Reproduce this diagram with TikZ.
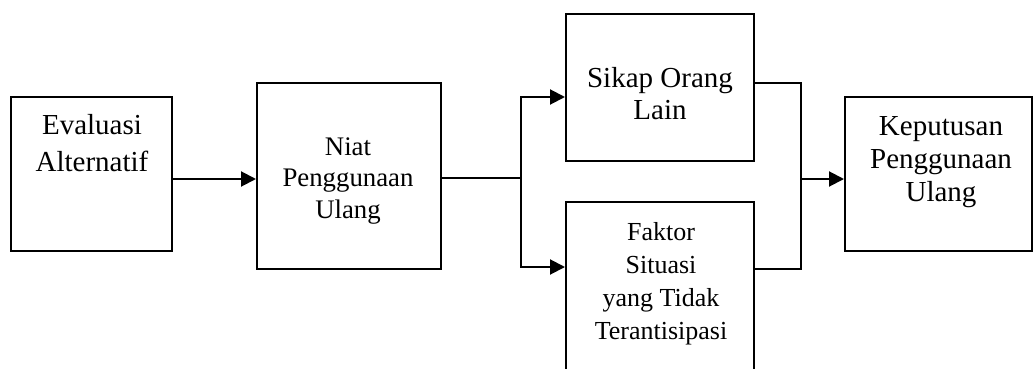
\documentclass[tikz,border=0pt]{standalone}
\usepackage{fontspec}
\setmainfont{Liberation Serif}
\usetikzlibrary{arrows.meta}
\begin{document}
\begin{tikzpicture}[x=1pt,y=-1pt,
  box/.style={draw=black,line width=2pt,rectangle,inner sep=0pt},
  arr/.style={line width=2pt,-{Triangle[length=15pt,width=15pt]}},
  ln/.style={line width=2pt},
  big/.style={anchor=base,inner sep=0pt,font=\fontsize{29}{35}\selectfont},
  mid/.style={anchor=base,inner sep=0pt,font=\fontsize{26.8}{32}\selectfont},
  sml/.style={anchor=base,inner sep=0pt,font=\fontsize{26}{31}\selectfont}]
\path[use as bounding box,clip] (0,0) rectangle (1033,369);
\fill[white] (0,0) rectangle (1033,369);
% boxes
\node[box,minimum width=161pt,minimum height=154pt] (b1) at (91.5,174) {};
\node[box,minimum width=184pt,minimum height=186pt] (b2) at (349,176) {};
\node[box,minimum width=188pt,minimum height=147pt] (b3) at (660,87.5) {};
\node[box,minimum width=188pt,minimum height=200pt] (b4) at (660,302) {};
\node[box,minimum width=187pt,minimum height=154pt] (b5) at (938.5,174) {};
% texts
\node[big] (t1a) at (92,134) {Evaluasi};
\node[big] (t1b) at (92,171) {Alternatif};
\node[mid] (t2a) at (348,155) {Niat};
\node[mid] (t2b) at (348,186) {Penggunaan};
\node[mid] (t2c) at (348,218) {Ulang};
\node[big] (t3a) at (660,87) {Sikap Orang};
\node[big] (t3b) at (660,119) {Lain};
\node[sml] (t4a) at (661,240) {Faktor};
\node[sml] (t4b) at (661,273) {Situasi};
\node[sml] (t4c) at (661,306) {yang Tidak};
\node[sml] (t4d) at (661,339) {Terantisipasi};
\node[big] (t5a) at (941,135) {Keputusan};
\node[big] (t5b) at (941,168) {Penggunaan};
\node[big] (t5c) at (941,201) {Ulang};
% routing points
\coordinate (a1) at (0,179);
\coordinate (jl) at (521,178);
\coordinate (jt) at (521,97);
\coordinate (jb) at (521,267);
\coordinate (rt) at (801,83);
\coordinate (rb) at (801,269);
\coordinate (rm) at (801,179);
% connectors
\draw[arr] (b1.east |- a1) -- (b2.west |- a1);
\draw[ln] (b2.east |- jl) -- (jl);
\draw[ln,line cap=rect] (jt) -- (jb);
\draw[arr] (jt) -- (b3.west |- jt);
\draw[arr] (jb) -- (b4.west |- jb);
\draw[ln,line join=miter] (b3.east |- rt) -- (rt) -- (rb) -- (b4.east |- rb);
\draw[arr] (rm) -- (b5.west |- rm);
\end{tikzpicture}
\end{document}
